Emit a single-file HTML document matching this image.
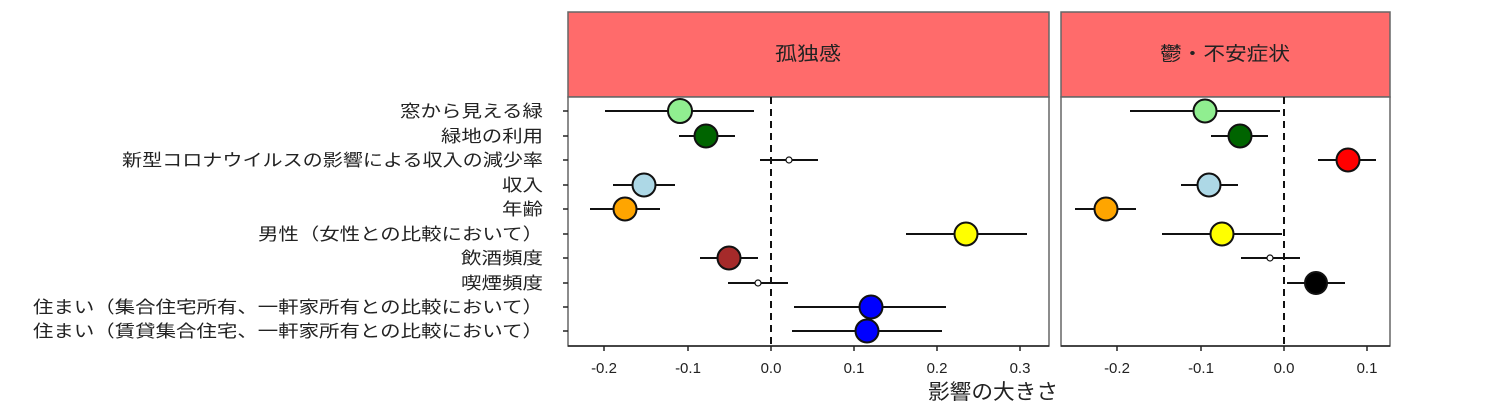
<!DOCTYPE html>
<html><head><meta charset="utf-8"><style>
html,body{margin:0;padding:0;background:#fff;}
svg{display:block;font-family:"Liberation Sans","Noto Sans CJK JP",sans-serif;}
</style></head><body>
<svg width="1489" height="418" viewBox="0 0 1489 418" xmlns="http://www.w3.org/2000/svg">
<rect x="568" y="12" width="481" height="85" fill="#ff6b6b" stroke="#666" stroke-width="1.5"/>
<rect x="1061" y="12" width="329" height="85" fill="#ff6b6b" stroke="#666" stroke-width="1.5"/>
<text x="808" y="60" font-size="19" text-anchor="middle" fill="#222" textLength="66" lengthAdjust="spacingAndGlyphs">孤独感</text>
<text x="1225" y="60" font-size="19" text-anchor="middle" fill="#222" textLength="130" lengthAdjust="spacingAndGlyphs">鬱・不安症状</text>
<rect x="568" y="97" width="481" height="249" fill="#fff" stroke="#666" stroke-width="1.5"/>
<rect x="1061" y="97" width="329" height="249" fill="#fff" stroke="#666" stroke-width="1.5"/>
<line x1="568" y1="346" x2="1049" y2="346" stroke="#222" stroke-width="1.5"/>
<line x1="1061" y1="346" x2="1390" y2="346" stroke="#222" stroke-width="1.5"/>
<line x1="771" y1="97" x2="771" y2="346" stroke="#111" stroke-width="2" stroke-dasharray="7,5"/>
<line x1="1284" y1="97" x2="1284" y2="346" stroke="#111" stroke-width="2" stroke-dasharray="7,5"/>
<g stroke="#222" stroke-width="1.5">
<line x1="604" y1="346" x2="604" y2="351"/><line x1="688" y1="346" x2="688" y2="351"/><line x1="771" y1="346" x2="771" y2="351"/><line x1="854" y1="346" x2="854" y2="351"/><line x1="937" y1="346" x2="937" y2="351"/><line x1="1020" y1="346" x2="1020" y2="351"/>
<line x1="1117" y1="346" x2="1117" y2="351"/><line x1="1201" y1="346" x2="1201" y2="351"/><line x1="1284" y1="346" x2="1284" y2="351"/><line x1="1367" y1="346" x2="1367" y2="351"/>
</g>
<g font-size="15" fill="#222" text-anchor="middle">
<text x="604" y="373">-0.2</text><text x="688" y="373">-0.1</text><text x="771" y="373">0.0</text><text x="854" y="373">0.1</text><text x="937" y="373">0.2</text><text x="1020" y="373">0.3</text>
<text x="1117" y="373">-0.2</text><text x="1201" y="373">-0.1</text><text x="1284" y="373">0.0</text><text x="1367" y="373">0.1</text>
</g>
<text x="993" y="399" font-size="21" text-anchor="middle" fill="#222" textLength="130" lengthAdjust="spacingAndGlyphs">影響の大きさ</text>
<g stroke="#222" stroke-width="1.5">
<line x1="563" y1="111" x2="568" y2="111"/><line x1="563" y1="136" x2="568" y2="136"/><line x1="563" y1="160" x2="568" y2="160"/><line x1="563" y1="185" x2="568" y2="185"/><line x1="563" y1="209" x2="568" y2="209"/><line x1="563" y1="234" x2="568" y2="234"/><line x1="563" y1="258" x2="568" y2="258"/><line x1="563" y1="283" x2="568" y2="283"/><line x1="563" y1="307" x2="568" y2="307"/><line x1="563" y1="331" x2="568" y2="331"/>
</g>
<g font-size="17" fill="#222" text-anchor="end">
<text x="543" y="117" textLength="143" lengthAdjust="spacingAndGlyphs">窓から見える緑</text>
<text x="543" y="142" textLength="102" lengthAdjust="spacingAndGlyphs">緑地の利用</text>
<text x="543" y="166" textLength="421" lengthAdjust="spacingAndGlyphs">新型コロナウイルスの影響による収入の減少率</text>
<text x="543" y="191" textLength="41" lengthAdjust="spacingAndGlyphs">収入</text>
<text x="543" y="215" textLength="41" lengthAdjust="spacingAndGlyphs">年齢</text>
<text x="543" y="240" textLength="285" lengthAdjust="spacingAndGlyphs">男性（女性との比較において）</text>
<text x="543" y="264" textLength="82" lengthAdjust="spacingAndGlyphs">飲酒頻度</text>
<text x="543" y="289" textLength="82" lengthAdjust="spacingAndGlyphs">喫煙頻度</text>
<text x="543" y="313" textLength="510" lengthAdjust="spacingAndGlyphs">住まい（集合住宅所有、一軒家所有との比較において）</text>
<text x="543" y="337" textLength="510" lengthAdjust="spacingAndGlyphs">住まい（賃貸集合住宅、一軒家所有との比較において）</text>
</g>
<g stroke="#111" stroke-width="2">
<line x1="605" y1="111" x2="754" y2="111"/><circle cx="680" cy="111" r="12" fill="#90ee90"/>
<line x1="679" y1="136" x2="735" y2="136"/><circle cx="706" cy="136" r="11.5" fill="#006400"/>
<line x1="760" y1="160" x2="818" y2="160"/><circle cx="789" cy="160" r="3" fill="#fff" stroke-width="1.2"/>
<line x1="613" y1="185" x2="675" y2="185"/><circle cx="644" cy="185" r="11.5" fill="#add8e6"/>
<line x1="590" y1="209" x2="660" y2="209"/><circle cx="625" cy="209" r="11.5" fill="#ffa500"/>
<line x1="906" y1="234" x2="1027" y2="234"/><circle cx="966" cy="234" r="11.5" fill="#ffff00"/>
<line x1="700" y1="258" x2="758" y2="258"/><circle cx="729" cy="258" r="11.5" fill="#a52a2a"/>
<line x1="728" y1="283" x2="788" y2="283"/><circle cx="758" cy="283" r="3" fill="#fff" stroke-width="1.2"/>
<line x1="794" y1="307" x2="946" y2="307"/><circle cx="871" cy="307" r="11.5" fill="#0000ff"/>
<line x1="792" y1="331" x2="942" y2="331"/><circle cx="867" cy="331" r="11.5" fill="#0000ff"/>
</g>
<g stroke="#111" stroke-width="2">
<line x1="1130" y1="111" x2="1280" y2="111"/><circle cx="1205" cy="111" r="11.5" fill="#90ee90"/>
<line x1="1211" y1="136" x2="1268" y2="136"/><circle cx="1240" cy="136" r="11.5" fill="#006400"/>
<line x1="1318" y1="160" x2="1376" y2="160"/><circle cx="1348" cy="160" r="11.5" fill="#ff0000"/>
<line x1="1181" y1="185" x2="1238" y2="185"/><circle cx="1209" cy="185" r="11.5" fill="#add8e6"/>
<line x1="1075" y1="209" x2="1136" y2="209"/><circle cx="1106" cy="209" r="11.5" fill="#ffa500"/>
<line x1="1162" y1="234" x2="1282" y2="234"/><circle cx="1222" cy="234" r="11.5" fill="#ffff00"/>
<line x1="1241" y1="258" x2="1300" y2="258"/><circle cx="1270" cy="258" r="3" fill="#fff" stroke-width="1.2"/>
<line x1="1287" y1="283" x2="1345" y2="283"/><circle cx="1316" cy="283" r="11" fill="#000"/>
</g>
</svg>
</body></html>
